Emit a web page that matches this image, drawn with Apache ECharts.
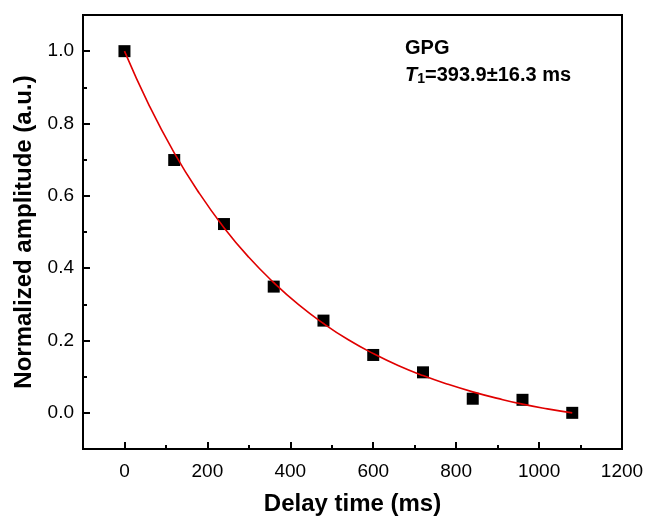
<!DOCTYPE html>
<html>
<head>
<meta charset="utf-8">
<script src="https://cdn.jsdelivr.net/npm/echarts@6/dist/echarts.min.js"></script>
<style>
  html, body { margin: 0; padding: 0; background: #fff; }
  #main { width: 650px; height: 525px; }
</style>
</head>
<body>
<div id="main"></div>
<script>
// measured points
var delayTime = [0, 120, 240, 360, 480, 600, 720, 840, 960, 1080];
var amplitude = [1.0, 0.699, 0.522, 0.349, 0.255, 0.160, 0.112, 0.039, 0.036, 0.0];

// fitted curve
var fitTime = [0, 60, 120, 180, 240, 300, 360, 420, 480, 540, 600, 660, 720, 780, 840, 900, 960, 1020, 1080];
var fitAmp = [1.0, 0.849, 0.719, 0.608, 0.512, 0.430, 0.360, 0.299, 0.247, 0.202, 0.164, 0.131, 0.103, 0.079, 0.058, 0.040, 0.024, 0.011, 0.0];

var xMajor = [0, 200, 400, 600, 800, 1000, 1200];
var xMinor = [100, 300, 500, 700, 900, 1100];
var yMajor = [0, 0.2, 0.4, 0.6, 0.8, 1.0];
var yMinor = [0.1, 0.3, 0.5, 0.7, 0.9];

var chartDom = document.getElementById('main');
var myChart = echarts.init(chartDom);
var font = 'Arial, "Liberation Sans", Helvetica, sans-serif';

// extra axis that only draws a set of ticks
function tickAxis(pos, min, max, vals, len) {
  return {
    type: 'value',
    position: pos,
    min: min, max: max,
    axisLine: { show: false, onZero: false },
    axisTick: { show: true, inside: true, length: len, customValues: vals, lineStyle: { color: '#000', width: 2 } },
    axisLabel: { show: false },
    splitLine: { show: false }
  };
}

var option = {
  animation: false,
  grid: {
    left: 83, right: 28, top: 15, bottom: 76,
    show: true,
    borderColor: '#000',
    borderWidth: 2
  },
  xAxis: [
    {
      type: 'value',
      min: -100, max: 1200,
      name: 'Delay time (ms)',
      nameLocation: 'middle',
      nameGap: 43,
      nameTextStyle: { fontFamily: font, fontSize: 24, fontWeight: 'bold', color: '#000' },
      axisLine: { show: true, onZero: false, lineStyle: { color: '#000', width: 2 } },
      axisTick: { show: false },
      axisLabel: {
        customValues: xMajor, margin: 13, fontFamily: font, fontSize: 19, color: '#000',
        formatter: function (v) { return String(v); }
      },
      splitLine: { show: false }
    },
    tickAxis('bottom', -100, 1200, xMajor, 7),
    tickAxis('bottom', -100, 1200, xMinor, 4)
  ],
  yAxis: [
    {
      type: 'value',
      min: -0.1, max: 1.1,
      name: 'Normalized amplitude (a.u.)',
      nameLocation: 'middle',
      nameGap: 41,
      nameTextStyle: { fontFamily: font, fontSize: 24, fontWeight: 'bold', color: '#000' },
      axisLine: { show: true, onZero: false, lineStyle: { color: '#000', width: 2 } },
      axisTick: { show: false },
      axisLabel: {
        customValues: yMajor, margin: 9, fontFamily: font, fontSize: 19, color: '#000',
        formatter: function (v) { return v.toFixed(1); }
      },
      splitLine: { show: false }
    },
    tickAxis('left', -0.1, 1.1, yMajor, 7),
    tickAxis('left', -0.1, 1.1, yMinor, 4)
  ],
  graphic: [
    {
      type: 'text',
      left: 405, top: 38,
      style: { text: 'GPG', font: 'bold 20px ' + font, fill: '#000' }
    },
    {
      type: 'text',
      left: 405, top: 65,
      style: {
        text: '{i|T}{s|1}{b|=393.9±16.3 ms}',
        rich: {
          i: { fontFamily: font, fontSize: 20, fontWeight: 'bold', fontStyle: 'italic', fill: '#000' },
          s: { fontFamily: font, fontSize: 14, fontWeight: 'bold', fill: '#000', verticalAlign: 'bottom', padding: [9, 0, 0, 0] },
          b: { fontFamily: font, fontSize: 20, fontWeight: 'bold', fill: '#000' }
        }
      }
    }
  ],
  series: [
    {
      type: 'scatter',
      symbol: 'rect',
      symbolSize: 12,
      itemStyle: { color: '#000', opacity: 1 },
      data: delayTime.map(function (t, i) { return [t, amplitude[i]]; }),
      z: 2
    },
    {
      type: 'line',
      smooth: true,
      showSymbol: false,
      lineStyle: { color: '#e00000', width: 1.6 },
      data: fitTime.map(function (t, i) { return [t, fitAmp[i]]; }),
      z: 3
    }
  ]
};

option && myChart.setOption(option);
</script>
</body>
</html>
